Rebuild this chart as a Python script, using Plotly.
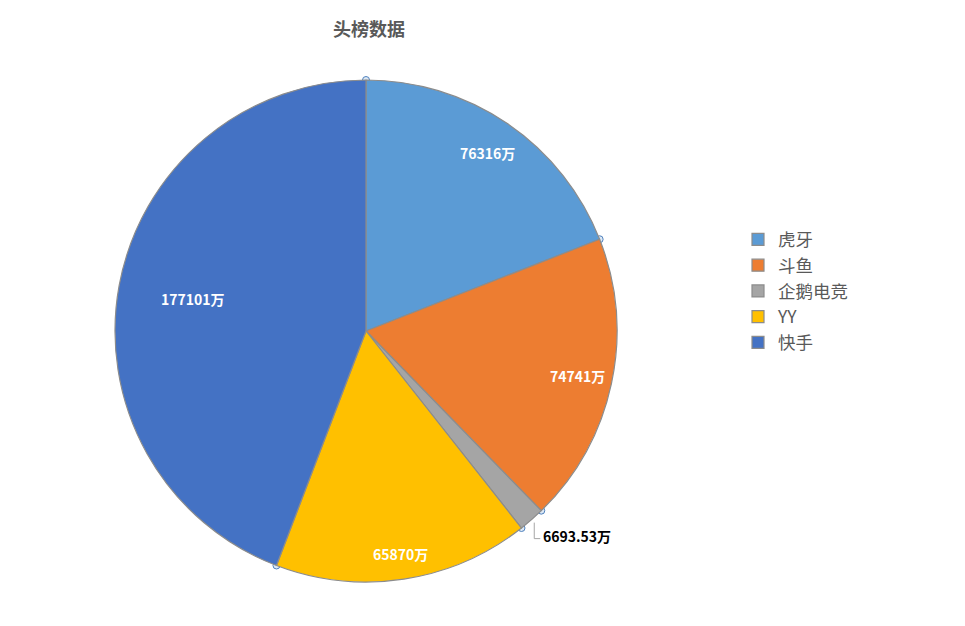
import numpy as np
import plotly.graph_objects as go

# data
platforms = ["虎牙", "斗鱼", "企鹅电竞", "YY", "快手"]
viewers = [76316, 74741, 6693.53, 65870, 177101]
colors = ["#5B9BD5", "#ED7D31", "#A5A5A5", "#FFC000", "#4472C4"]

W, H = 965, 626
CX, CY, R = 358, 323, 251          # pie centre / radius, px from top-left of figure
# where each slice label sits (fraction of radius, Excel "best fit" look); None = outside label
LABEL_R = [0.86, 0.86, None, 0.9, 0.7]

labels = [f"{v:g}万" for v in viewers]

fig = go.Figure()
fig.add_trace(go.Pie(
    labels=platforms,
    values=viewers,
    textinfo="none",
    marker=dict(colors=colors, line=dict(color="#8c8c8c", width=1.2)),
    sort=False,
    direction="clockwise",
    rotation=0,
    domain=dict(x=[(CX - R) / W, (CX + R) / W], y=[(H - CY - R) / H, (H - CY + R) / H]),
    hoverinfo="label+value+percent",
))

# slice angles derived from the data
total = sum(viewers)
start = np.concatenate([[0], np.cumsum(viewers)[:-1]]) / total
mid = start + np.array(viewers) / total / 2

# value labels
for lab, r, f in zip(labels, LABEL_R, mid):
    a = 2 * np.pi * f
    if r is not None:
        fig.add_annotation(
            x=CX + r * R * np.sin(a), y=(H - CY) + r * R * np.cos(a),
            xref="x", yref="y", text=f"<b>{lab}</b>", showarrow=False,
            font=dict(color="white", size=14, family="Noto Sans CJK SC"),
        )
    else:
        # outside label with an elbow leader line
        ex, ey = CX + (R + 4) * np.sin(a), (H - CY) + (R + 4) * np.cos(a)
        fig.add_shape(type="path", xref="x", yref="y",
                      path=f"M {ex},{ey} L {ex},{ey - 16} L {ex + 6},{ey - 16}",
                      line=dict(color="#a6a6a6", width=1))
        fig.add_annotation(
            x=ex + 7, y=ey - 13, xref="x", yref="y", text=f"<b>{lab}</b>",
            showarrow=False, xanchor="left",
            font=dict(color="black", size=14, family="Noto Sans CJK SC"),
        )

# selection handles on slice boundaries
theta = 2 * np.pi * start
hx = list(CX + R * np.sin(theta)) + [CX]
hy = list((H - CY) + R * np.cos(theta)) + [H - CY]
fig.add_trace(go.Scatter(
    x=hx, y=hy, mode="markers", showlegend=False, hoverinfo="skip",
    marker=dict(size=7, color="#dce8f5", line=dict(color="#4f81bd", width=1)),
))

fig.update_layout(
    width=W, height=H,
    paper_bgcolor="white", plot_bgcolor="rgba(0,0,0,0)",
    margin=dict(l=0, r=0, t=0, b=0),
    title=dict(text="<b>头榜数据</b>", x=361 / W, xanchor="center", y=1 - 22 / H, yanchor="middle",
               font=dict(size=18, color="#595959", family="Noto Sans CJK SC")),
    xaxis=dict(range=[0, W], visible=False, fixedrange=True),
    yaxis=dict(range=[0, H], visible=False, fixedrange=True),
    legend=dict(x=730 / W, y=1 - 283 / H, yanchor="middle", xanchor="left",
                font=dict(size=17.5, color="#595959", family="Noto Sans CJK SC"),
                itemwidth=30, traceorder="normal"),
    showlegend=True,
)

fig.write_html("out.html")
